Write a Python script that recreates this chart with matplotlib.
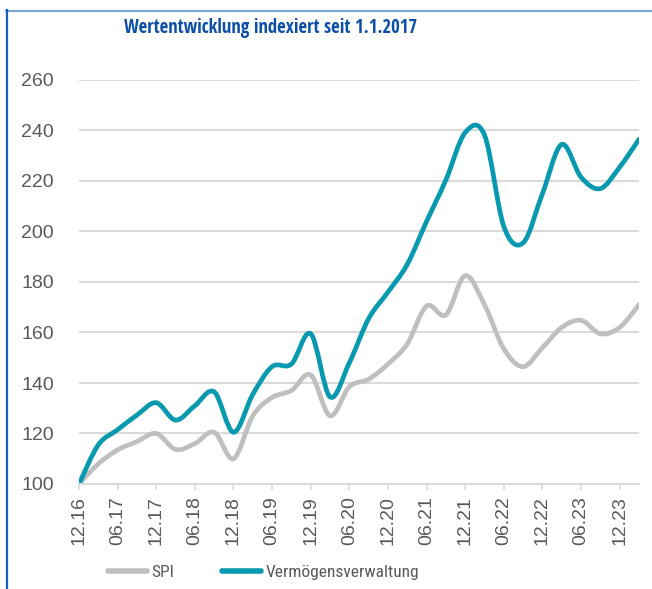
import matplotlib
matplotlib.use("Agg")
import matplotlib.pyplot as plt
import numpy as np
from matplotlib.path import Path
from matplotlib.patches import PathPatch
from matplotlib.lines import Line2D
from matplotlib import font_manager as fm

# months since 12.2016 (quarterly observations)
months = list(range(0, 88, 3))
spi = [100, 108, 113.5, 116.8, 120, 113.7, 116, 120.5, 110, 127,
       134.3, 137, 143.2, 127, 138.5, 141.5, 147.5, 155.5, 170.5, 167,
       182.5, 171, 153.5, 146.5, 154, 162, 164.8, 159.5, 162, 171]
vv = [100, 115.5, 121.5, 127.3, 132.2, 125.3, 131, 136.5, 120.5, 135.5,
      146.5, 147.5, 159.5, 134.5, 148, 165.5, 176, 187, 204, 220.4,
      239.2, 238.2, 202, 195.5, 215, 234.5, 221.5, 217, 225.5, 236.5]
tick_months = list(range(0, 85, 6))
tick_labels = ["12.16", "06.17", "12.17", "06.18", "12.18", "06.19", "12.19",
               "06.20", "12.20", "06.21", "12.21", "06.22", "12.22", "06.23", "12.23"]
yticks = [100, 120, 140, 160, 180, 200, 220, 240, 260]
title = "Wertentwicklung indexiert seit 1.1.2017"
series_names = ["SPI", "Vermögensverwaltung"]

CANDS = [("Liberation Sans Narrow", "normal"), ("Arial Narrow", "normal"),
         ("Open Sans Condensed", "normal"), ("Roboto Condensed", "normal"),
         ("Open Sans", "condensed"), ("Noto Sans", "condensed"),
         ("Roboto", "condensed")]


def find_condensed(weight):
    for fam, st in CANDS:
        try:
            p = fm.findfont(fm.FontProperties(family=fam, stretch=st, weight=weight),
                            fallback_to_default=False)
        except Exception:
            continue
        low = p.lower().replace("\\", "/").split("/")[-1]
        if not ("narrow" in low or "cond" in low):
            continue
        if weight == "bold" and "bold" not in low:
            continue
        if weight == "normal" and ("bold" in low or "light" in low
                                   or "medium" in low or "semi" in low):
            continue
        return fam, st
    return None


cb = find_condensed("bold")
if cb:
    TFAM, TST, TITLE_SIZE = cb[0], cb[1], 13.5
else:
    TFAM, TST, TITLE_SIZE = "Liberation Sans", "normal", 11.6
cr = find_condensed("normal")
if cr:
    LFAM, LST, LEG_SIZE = cr[0], cr[1], 12.5
else:
    LFAM, LST, LEG_SIZE = "Liberation Sans", "normal", 10.0

plt.rcParams["font.family"] = ["Liberation Sans", "DejaVu Sans"]

C_SPI = "#bfbfbf"
C_VV = "#0799b0"
TXT = "#595959"
GRID = "#d9d9d9"


def smooth_path(x, y):
    p = np.column_stack([x, y]).astype(float)
    n = len(p)
    verts = [p[0]]
    codes = [Path.MOVETO]
    for i in range(n - 1):
        p0 = p[i - 1] if i > 0 else p[i]
        p1 = p[i]
        p2 = p[i + 1]
        p3 = p[i + 2] if i + 2 < n else p[i + 1]
        c1 = p1 + (p2 - p0) / 6.0
        c2 = p2 - (p3 - p1) / 6.0
        verts += [c1, c2, p2]
        codes += [Path.CURVE4] * 3
    return Path(verts, codes)


fig = plt.figure(figsize=(6.52, 5.89), dpi=100)
ax = fig.add_axes([79 / 652, 105 / 589, 560 / 652, 404 / 589])

ax.set_xlim(0, 87)
ax.set_ylim(100, 260)
ax.set_yticks(yticks)
ax.set_yticklabels([str(v) for v in yticks])
ax.set_xticks(tick_months)
ax.set_xticklabels(tick_labels, rotation=90)
ax.grid(axis="y", color=GRID, linewidth=1.4)
ax.set_axisbelow(True)
for s in ["top", "right", "left"]:
    ax.spines[s].set_visible(False)
ax.spines["bottom"].set_color(GRID)
ax.spines["bottom"].set_linewidth(1.4)
ax.tick_params(axis="y", length=0, pad=18, labelsize=14, labelcolor=TXT)
ax.tick_params(axis="x", length=4.5, width=1.2, color=GRID, pad=4,
               labelsize=14, labelcolor=TXT)

for vals, col in [(spi, C_SPI), (vv, C_VV)]:
    patch = PathPatch(smooth_path(months, vals), fill=False, edgecolor=col,
                      linewidth=3.4, capstyle="round", joinstyle="round",
                      transform=ax.transData)
    ax.add_patch(patch)

em = LEG_SIZE * 100 / 72
handles = [Line2D([], [], color=C_SPI, lw=4, solid_capstyle="round"),
           Line2D([], [], color=C_VV, lw=4, solid_capstyle="round")]
leg_prop = fm.FontProperties(family=[LFAM, "DejaVu Sans"], stretch=LST,
                             size=LEG_SIZE)
fig.legend(handles, series_names, loc="center left", ncol=2,
           bbox_to_anchor=(108 / 652, 1 - 572 / 589), frameon=False,
           borderpad=0, borderaxespad=0,
           prop=leg_prop, labelcolor=TXT, handlelength=39 / em,
           handletextpad=4.5 / em, columnspacing=48 / em)

fig.text(271 / 652, 1 - 33 / 589, title, ha="center", va="baseline",
         fontsize=TITLE_SIZE, fontweight="bold", color="#0b4fa8",
         family=[TFAM, "DejaVu Sans"], fontstretch=TST)

# frame lines
fig.add_artist(Line2D([6 / 652, 1], [1 - 11 / 589, 1 - 11 / 589],
                      transform=fig.transFigure, color="#7aa3d8", lw=1.6))
fig.add_artist(Line2D([6.5 / 652, 6.5 / 652], [1 - 10 / 589, 0],
                      transform=fig.transFigure, color="#1560c0", lw=1.6))

fig.savefig("out.png", dpi=100)
